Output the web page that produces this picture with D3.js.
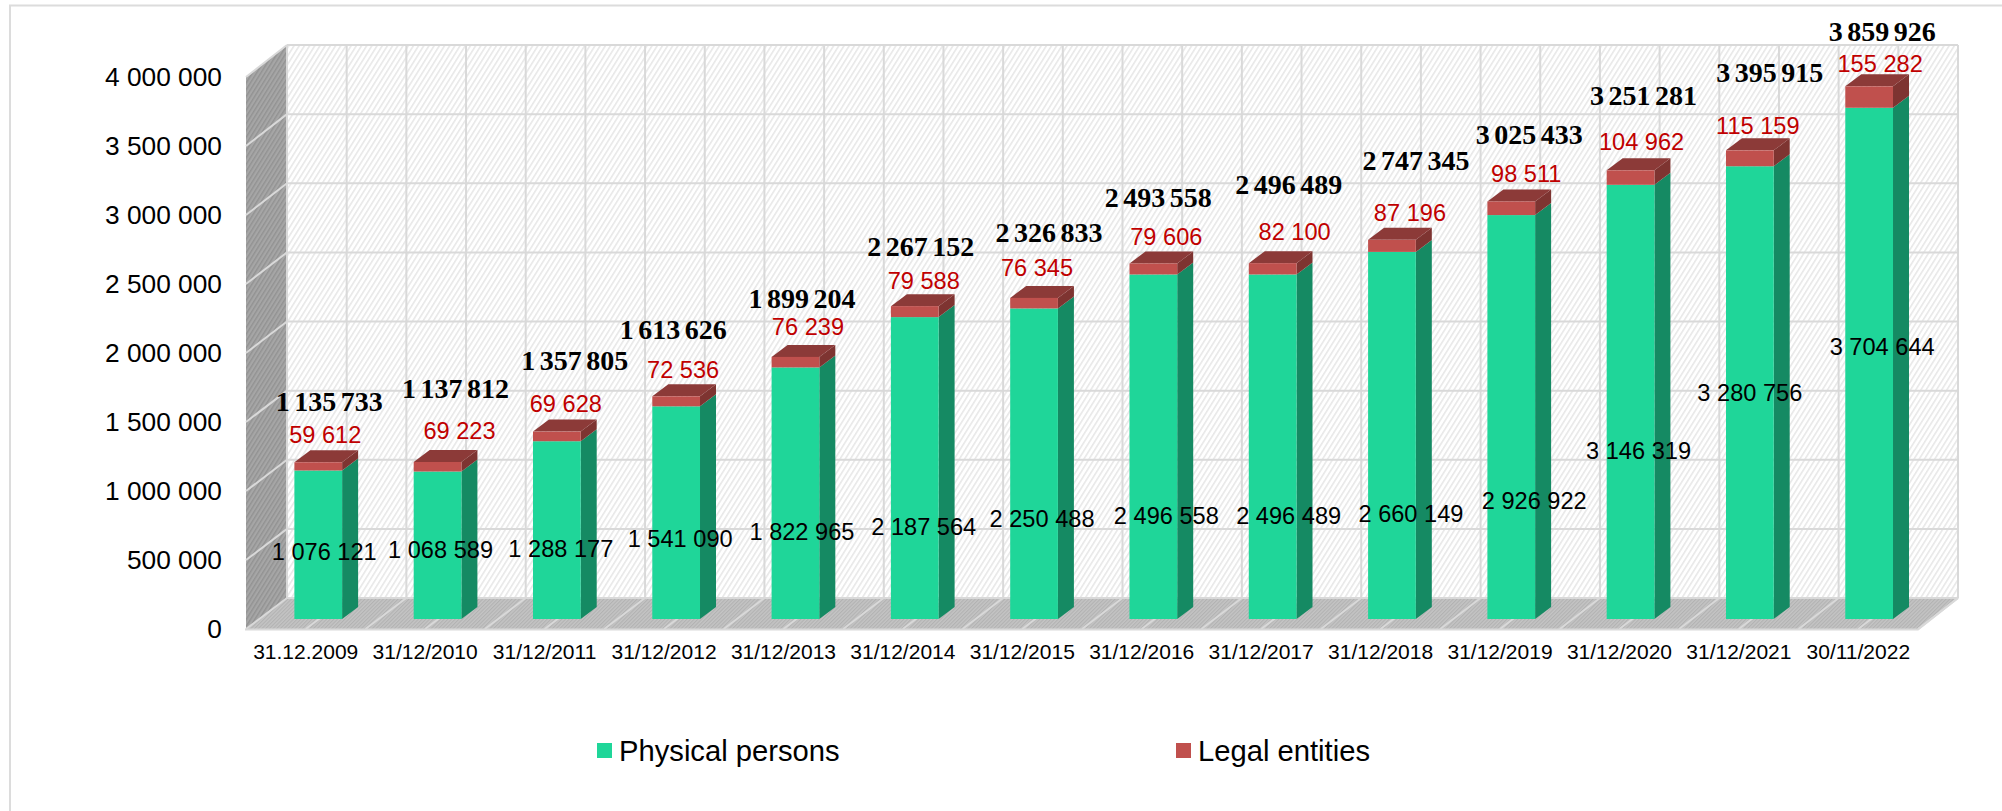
<!DOCTYPE html>
<html>
<head>
<meta charset="utf-8">
<script src="https://cdn.jsdelivr.net/npm/d3@7/dist/d3.min.js"></script>
<style>
html,body{margin:0;padding:0;background:#fff;overflow:hidden}
text{font-family:"Liberation Sans",Arial,sans-serif}
</style>
</head>
<body>
<svg id="chart" width="2002" height="811"></svg>
<script>
// ---- data ----
const categories = ["31.12.2009","31/12/2010","31/12/2011","31/12/2012","31/12/2013","31/12/2014","31/12/2015","31/12/2016","31/12/2017","31/12/2018","31/12/2019","31/12/2020","31/12/2021","30/11/2022"];
const physicalPersons = [1076121,1068589,1288177,1541090,1822965,2187564,2250488,2496558,2496489,2660149,2926922,3146319,3280756,3704644];
const legalEntities = [59612,69223,69628,72536,76239,79588,76345,79606,82100,87196,98511,104962,115159,155282];
// totals exactly as printed in the chart
const totalLabels = [1135733,1137812,1357805,1613626,1899204,2267152,2326833,2493558,2496489,2747345,3025433,3251281,3395915,3859926];
const seriesNames = ["Physical persons","Legal entities"];
const valueTicks = [0,500000,1000000,1500000,2000000,2500000,3000000,3500000,4000000];

// hand-placed data-label nudges in the source chart (px from each bar's anchor)
const physNudgeX = [6,3,4,4,6.5,9,8,13,16,19,23,8,0,13];
const physNudgeY = [7,4,18,26,38,58,55,69,69,78,83,49,0,-17];
const legalNudgeX = [7,22,9,7,12.5,9,3,13,22,18,15,11,8,11];
const legalNudgeY = [-28,-31,-28,-27,-30,-26,-30,-26.5,-32,-27,-27.5,-29,-25,-23];
const totalNudgeX = [11,18,18,-3,6.5,6,15,5,16,24,18,13,20,13];
const totalNudgeY = [-61,-73,-71,-67,-58,-59,-65,-65.5,-78,-79,-66.5,-75,-78,-55];

// ---- layout ----
const wall = {left:287,right:1958,top:45,bottom:598};
const front = {left:246,right:1918,top:77,bottom:629};
const barBase = 619, barLeft = 258.6, barStep = 119.3, depthX = 16, depthY = -12;
const colors = {phys:"#1fd699",physSide:"#158a63",legal:"#c0504d",legalSide:"#7e3431",legalTop:"#8c3a38",grid:"#d9d9d9",text:"#000",legalText:"#c00000"};

const svg = d3.select("#chart");
const fmt = v => d3.format(",")(v).replace(/,/g," ");

const yBack = d3.scaleLinear().domain([0,4000000]).range([wall.bottom,wall.top]);
const yFront = d3.scaleLinear().domain([0,4000000]).range([front.bottom,front.top]);
const yBar = d3.scaleLinear().domain([0,4000000]).range([barBase,barBase-552]);
const xFront = d3.scaleBand().domain(categories).range([front.left,front.right]);
const xBar = d3.scaleBand().domain(categories).range([barLeft,barLeft+14*barStep]).paddingInner(0.6).paddingOuter(0.3);
const halfBands = d3.range(0,29);
const xBackGrid = d3.scaleLinear().domain([0,28]).range([wall.left,wall.right]);
const xFrontGrid = d3.scaleLinear().domain([0,28]).range([front.left,front.right]);

// ---- patterns ----
const defs = svg.append("defs");
function hatch(id,bg,fg,size,w,rot){
  const p = defs.append("pattern").attr("id",id).attr("width",size).attr("height",size)
    .attr("patternUnits","userSpaceOnUse").attr("patternTransform",`rotate(${rot})`);
  p.append("rect").attr("width",size).attr("height",size).attr("fill",bg);
  p.append("rect").attr("width",w).attr("height",size).attr("fill",fg);
}
hatch("backHatch","#ffffff","#e8e8e8",4.4,1.6,32);
hatch("sideHatch","#a6a6a6","#929292",3.6,1.4,32);
hatch("floorHatch","#c4c4c4","#b2b2b2",2.6,1.1,45);

// ---- frame ----
svg.append("path").attr("d","M10,820V5.5H2010").attr("fill","none").attr("stroke","#dcdcdc").attr("stroke-width",2);

const poly = pts => "M"+pts.map(p=>p.join(",")).join("L")+"Z";

// walls and floor
svg.append("rect").attr("x",wall.left).attr("y",wall.top).attr("width",wall.right-wall.left).attr("height",wall.bottom-wall.top).attr("fill","url(#backHatch)");
svg.append("path").attr("d",poly([[front.left,front.top],[wall.left,wall.top],[wall.left,wall.bottom],[front.left,front.bottom]])).attr("fill","url(#sideHatch)");
svg.append("path").attr("d",poly([[wall.left,wall.bottom],[wall.right,wall.bottom],[front.right,front.bottom],[front.left,front.bottom]])).attr("fill","url(#floorHatch)");

// gridlines
const grid = svg.append("g").attr("stroke",colors.grid).attr("stroke-width",2).attr("fill","none");
grid.selectAll(".h").data(valueTicks).join("line").attr("x1",wall.left).attr("x2",wall.right).attr("y1",d=>yBack(d)).attr("y2",d=>yBack(d));
grid.selectAll(".s").data(valueTicks.slice(1)).join("line").attr("x1",front.left).attr("x2",wall.left).attr("y1",d=>yFront(d)).attr("y2",d=>yBack(d));
grid.selectAll(".v").data(halfBands).join("line").attr("x1",d=>xBackGrid(d)).attr("x2",d=>xBackGrid(d)).attr("y1",wall.top).attr("y2",wall.bottom);
grid.selectAll(".f").data(halfBands).join("line").attr("x1",d=>xBackGrid(d)).attr("x2",d=>xFrontGrid(d)).attr("y1",wall.bottom).attr("y2",front.bottom);
grid.append("path").attr("d",`M${front.left-1},${front.bottom+0.5}H${front.right}L${wall.right},${wall.bottom}`);

// bars
const rows = categories.map((c,i)=>({c,i,p:physicalPersons[i],l:legalEntities[i],t:totalLabels[i]}));
const bars = svg.append("g").selectAll("g").data(rows).join("g");
const bw = xBar.bandwidth();
bars.append("path").attr("fill",colors.physSide).attr("d",d=>{const x=xBar(d.c)+bw,b=yBar(0),t=yBar(d.p);return poly([[x,b],[x+depthX,b+depthY],[x+depthX,t+depthY],[x,t]]);});
bars.append("path").attr("fill",colors.legalSide).attr("d",d=>{const x=xBar(d.c)+bw,b=yBar(d.p),t=yBar(d.p+d.l);return poly([[x,b],[x+depthX,b+depthY],[x+depthX,t+depthY],[x,t]]);});
bars.append("path").attr("fill",colors.legalTop).attr("d",d=>{const x=xBar(d.c),t=yBar(d.p+d.l);return poly([[x,t],[x+bw,t],[x+bw+depthX,t+depthY],[x+depthX,t+depthY]]);});
bars.append("rect").attr("fill",colors.phys).attr("x",d=>xBar(d.c)).attr("width",bw).attr("y",d=>yBar(d.p)).attr("height",d=>yBar(0)-yBar(d.p));
bars.append("rect").attr("fill",colors.legal).attr("x",d=>xBar(d.c)).attr("width",bw).attr("y",d=>yBar(d.p+d.l)).attr("height",d=>yBar(d.p)-yBar(d.p+d.l));

// axes
const ya = svg.append("g").attr("transform","translate(222,0)").call(d3.axisLeft(yFront).tickValues(valueTicks).tickSize(0).tickPadding(0).tickFormat(fmt));
ya.select(".domain").remove();
ya.selectAll("text").attr("font-size",26.3).attr("fill",colors.text).attr("font-family","Liberation Sans");
const xa = svg.append("g").attr("transform",`translate(0,${front.bottom})`).call(d3.axisBottom(xFront).tickSize(0).tickPadding(15));
xa.select(".domain").remove();
xa.selectAll("text").attr("font-size",21).attr("fill",colors.text).attr("font-family","Liberation Sans");

// data labels
const cx = d => xBar(d.c)+bw/2;
const labels = svg.append("g").attr("text-anchor","middle");
labels.selectAll(".phys").data(rows).join("text").attr("class","phys")
  .attr("x",d=>cx(d)+physNudgeX[d.i]).attr("y",d=>yBar(d.p/2)+physNudgeY[d.i]).attr("dy","0.36em")
  .attr("font-size",23.6).attr("fill",colors.text).text(d=>fmt(d.p));
labels.selectAll(".legal").data(rows).join("text").attr("class","legal")
  .attr("x",d=>cx(d)+legalNudgeX[d.i]).attr("y",d=>yBar(d.p+d.l)+legalNudgeY[d.i]).attr("dy","0.36em")
  .attr("font-size",23.6).attr("fill",colors.legalText).text(d=>fmt(d.l));
labels.selectAll(".total").data(rows).join("text").attr("class","total")
  .attr("x",d=>cx(d)+totalNudgeX[d.i]).attr("y",d=>yBar(d.p+d.l)+totalNudgeY[d.i]).attr("dy","0.33em")
  .attr("font-size",28).attr("font-weight","bold").attr("word-spacing",-2.5).attr("fill",colors.text).style("font-family","'Liberation Serif',serif").text(d=>fmt(d.t));

// legend
const legendX = d3.scaleOrdinal().domain(seriesNames).range([597,1176]);
const legendColor = d3.scaleOrdinal().domain(seriesNames).range([colors.phys,colors.legal]);
const lg = svg.append("g").selectAll("g").data(seriesNames).join("g").attr("transform",d=>`translate(${legendX(d)},743)`);
lg.append("rect").attr("width",15).attr("height",15).attr("fill",d=>legendColor(d));
lg.append("text").attr("x",22).attr("y",7).attr("dy","0.36em").attr("font-size",29.2).attr("fill",colors.text).text(d=>d);
</script>
</body>
</html>
